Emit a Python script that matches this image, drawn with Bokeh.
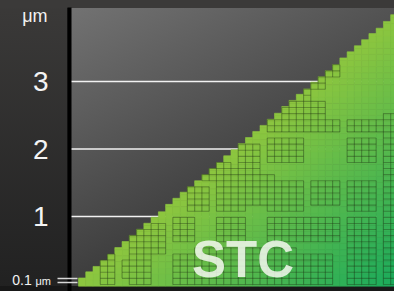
from bokeh.plotting import figure
from bokeh.models import Range1d, FixedTicker, Label, ColumnDataSource
from bokeh.embed import file_html
from bokeh.resources import INLINE
from bokeh.core.properties import value

# ---------------- data ----------------
heights = [0.09, 0.18, 0.26, 0.35, 0.44, 0.54, 0.63, 0.72, 0.81, 0.90,
           0.99, 1.07, 1.18, 1.27, 1.36, 1.44, 1.53, 1.62, 1.71, 1.80,
           1.90, 1.99, 2.08, 2.17, 2.26, 2.35, 2.44, 2.53, 2.63, 2.72,
           2.81, 2.89, 2.99, 3.07, 3.16, 3.25, 3.35, 3.44, 3.53, 3.62,
           3.71, 3.79, 3.89, 3.99]
columns = list(range(len(heights)))
tick_values = [1, 2, 3]
tick_labels = ["1", "2", "3"]
small_marks = [0.027, 0.086]
unit_text = "μm"
small_value_text = "0.1"
brand_text = "STC"

# outlined cell blocks of the texture: (col0, col1, row0, row1), inclusive
block_col0 = [3, 6, 7, 10, 13, 13, 15, 19, 19, 17, 18, 22, 23, 26, 26, 26, 26, 30, 32, 37, 37, 37, 37, 42, 26, 37, 28, 32, 34, 16, 31]
block_col1 = [4, 6, 9, 11, 15, 15, 17, 22, 22, 24, 20, 24, 26, 30, 30, 35, 29, 34, 35, 40, 40, 40, 40, 43, 35, 43, 33, 33, 35, 29, 31]
block_row0 = [0, 1, 0, 5, 0, 7, 12, 12, 7, 17, 18, 19, 13, 20, 12, 7, 0, 0, 13, 20, 12, 6, 0, 0, 25, 25, 27, 32, 34, 0, 30]
block_row1 = [4, 3, 8, 9, 4, 10, 15, 16, 10, 18, 19, 22, 17, 23, 16, 10, 5, 4, 16, 23, 16, 10, 5, 27, 26, 26, 29, 34, 35, 5, 31]

# ---------------- geometry / style constants ----------------
W, H = 394, 291
PX_X, PX_Y = 7.26, 67.5          # pixels per column / per µm
X0_PX, Y0_PX = 78.0, 283.5       # pixel position of column 0 / of 0 µm
AXIS_X = (69 - X0_PX) / PX_X     # data x of the vertical axis
BAR_BOTTOM = (Y0_PX - 285.7) / PX_Y
CELL_H = 0.0904
ROW_OFF = -0.007
C_EDGE = (141, 198, 63)
C_FAR = (26, 170, 92)

def px_x(px):
    return (px - X0_PX) / PX_X

def px_y(py):
    return (Y0_PX - py) / PX_Y

def mix(f):
    f = max(0.0, min(1.0, f))
    r, g, b = (round(a + (c - a) * f) for a, c in zip(C_EDGE, C_FAR))
    return "#%02x%02x%02x" % (r, g, b)

# bars split into small bands so that the diagonal gradient can be shown
L, R, B, T, COL = [], [], [], [], []
for i, h in zip(columns, heights):
    y0 = BAR_BOTTOM
    while y0 < h - 1e-9:
        y1 = min(y0 + CELL_H, h)
        ym = (y0 + y1) / 2
        t = PX_X * (i + 0.5) - 1.17 * PX_Y * ym
        L.append(i); R.append(i + 1); B.append(y0); T.append(y1)
        COL.append(mix(t / 318.0))
        y0 = y1
bars = ColumnDataSource(dict(left=L, right=R, bottom=B, top=T, color=COL))

# texture edges (deduplicated)
edges = set()
for c0, c1, r0, r1 in zip(block_col0, block_col1, block_row0, block_row1):
    for i in range(c0, c1 + 1):
        for j in range(r0, r1 + 1):
            if i >= len(heights) or j > i:
                continue
            edges.add(("h", i, j)); edges.add(("h", i, j + 1))
            edges.add(("v", i, j)); edges.add(("v", i + 1, j))

def rowy(k):
    return ROW_OFF + CELL_H * k

sx0, sy0, sx1, sy1 = [], [], [], []
for kind, a, b in sorted(edges):
    if kind == "h":
        sx0.append(a); sx1.append(a + 1); sy0.append(rowy(b)); sy1.append(rowy(b))
    else:
        sx0.append(a); sx1.append(a); sy0.append(rowy(b)); sy1.append(rowy(b + 1))
tex = ColumnDataSource(dict(x0=sx0, y0=sy0, x1=sx1, y1=sy1))

# ---------------- figure ----------------
x_range = Range1d(px_x(0), px_x(W))
y_range = Range1d(px_y(H), px_y(0))
p = figure(width=W, height=H, x_range=x_range, y_range=y_range,
           output_backend="svg", toolbar_location=None,
           x_axis_location=None,
           min_border_left=0, min_border_right=0,
           min_border_top=0, min_border_bottom=0)
p.background_fill_color = None
p.border_fill_color = None
p.outline_line_color = None
p.styles = {
    "background":
        "linear-gradient(#3b3a39, #3b3a39) 0 0 / 100% 8px no-repeat, "
        "linear-gradient(#181818, #181818) 0 286px / 100% 5px no-repeat, "
        "linear-gradient(180deg, #3b3a39 0%, #212121 100%) 0 0 / 67px 100% no-repeat, "
        "linear-gradient(153deg, #727272 0%, #1e1e1e 100%) 71px 8px / 323px 278px no-repeat, "
        "#222222"
}
p.xgrid.visible = False
p.ygrid.visible = False

ax = p.yaxis[0]
ax.fixed_location = AXIS_X
ax.bounds = (px_y(H), px_y(7))
ax.ticker = FixedTicker(ticks=tick_values, minor_ticks=small_marks)
ax.major_label_overrides = {v: s for v, s in zip(tick_values, tick_labels)}
ax.axis_line_color = "black"
ax.axis_line_width = 4
ax.major_tick_out = 0
ax.major_tick_in = 0
ax.minor_tick_out = 12
ax.minor_tick_in = 8
ax.minor_tick_line_color = "#d8d8d8"
ax.minor_tick_line_width = 1.4
ax.major_label_standoff = 9
ax.major_label_text_font = "Liberation Sans"
ax.major_label_text_font_size = "28px"
ax.major_label_text_color = "#f4f4f4"

# horizontal guide lines at the labelled ticks, starting at the axis
p.segment(x0=[AXIS_X] * len(tick_values), y0=tick_values,
          x1=[len(heights)] * len(tick_values), y1=tick_values,
          line_color="#f2f2f2", line_width=1.6)

p.quad(left="left", right="right", bottom="bottom", top="top", source=bars,
       fill_color="color", line_color="color", line_width=0.6)
p.segment(x0="x0", y0="y0", x1="x1", y1="y1", source=tex,
          line_color="#1c2e10", line_alpha=0.36, line_width=1.1)

p.text(x=[px_x(242.5)], y=[px_y(259)], text=[brand_text],
       text_align="center", text_baseline="middle",
       text_font=value("Liberation Sans"), text_font_style="bold",
       text_font_size="51px", text_color="#f4f8f0", text_alpha=0.85)

p.add_layout(Label(x=px_x(21.7), y=px_y(15.5), text=unit_text,
                   text_align="left", text_baseline="middle",
                   text_font="Liberation Sans", text_font_size="18px",
                   text_color="#f2f2f2"))
p.add_layout(Label(x=px_x(11.7), y=px_y(279.6), text=small_value_text,
                   text_align="left", text_baseline="middle",
                   text_font="Liberation Sans", text_font_size="14px",
                   text_color="#f2f2f2"))
p.add_layout(Label(x=px_x(35), y=px_y(280.3), text=unit_text,
                   text_align="left", text_baseline="middle",
                   text_font="Liberation Sans", text_font_size="11px",
                   text_color="#f2f2f2"))

open("out.html", "w").write(file_html(p, INLINE))
